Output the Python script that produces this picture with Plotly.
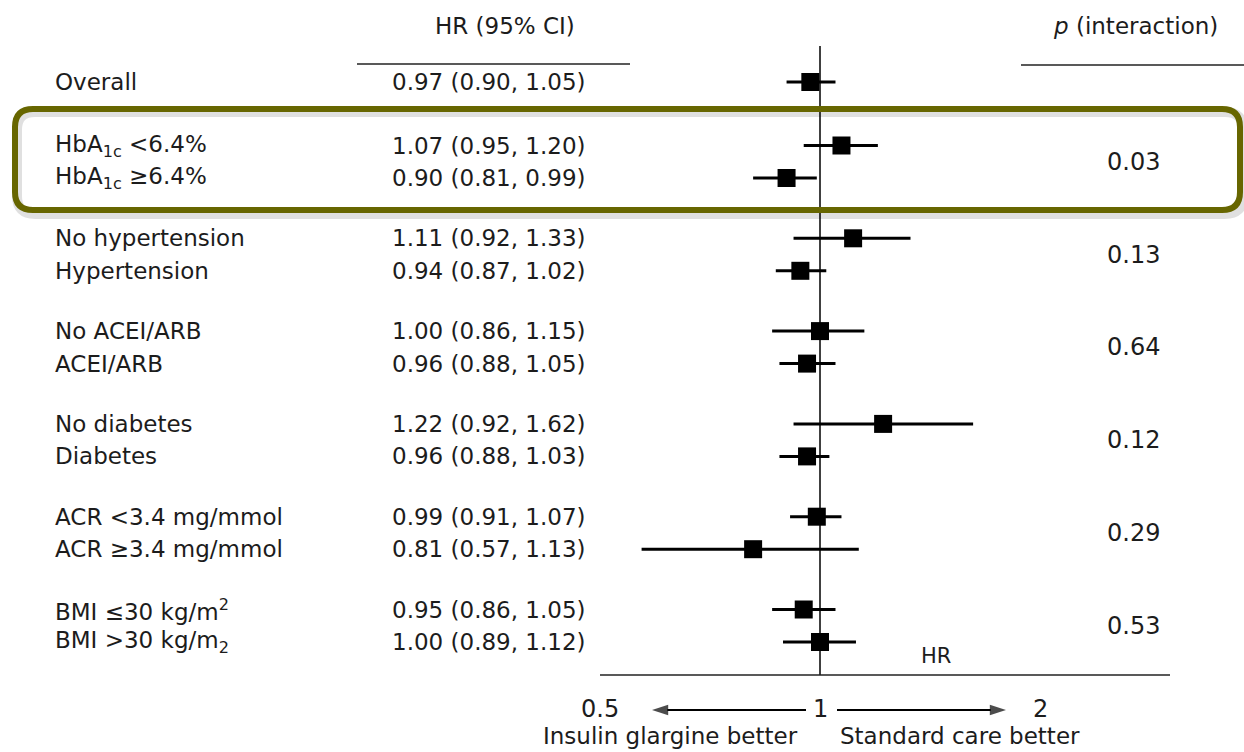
import numpy as np
import plotly.graph_objects as go

# ---------------- data ----------------
labels = [
    "Overall",
    "HbA<sub>1c</sub> &lt;6.4%",
    "HbA<sub>1c</sub> ≥6.4%",
    "No hypertension",
    "Hypertension",
    "No ACEI/ARB",
    "ACEI/ARB",
    "No diabetes",
    "Diabetes",
    "ACR &lt;3.4 mg/mmol",
    "ACR ≥3.4 mg/mmol",
    "BMI ≤30 kg/m<sup>2</sup>",
    "BMI &gt;30 kg/m<sub>2</sub>",
]
hr = [0.97, 1.07, 0.90, 1.11, 0.94, 1.00, 0.96, 1.22, 0.96, 0.99, 0.81, 0.95, 1.00]
ci_low = [0.90, 0.95, 0.81, 0.92, 0.87, 0.86, 0.88, 0.92, 0.88, 0.91, 0.57, 0.86, 0.89]
ci_high = [1.05, 1.20, 0.99, 1.33, 1.02, 1.15, 1.05, 1.62, 1.03, 1.07, 1.13, 1.05, 1.12]
p_interaction = ["0.03", "0.13", "0.64", "0.12", "0.29", "0.53"]
tick_vals = [0.5, 1, 2]
tick_text = ["0.5", "1", "2"]

# ---------------- layout helpers ----------------
W, H = 1244, 752
FONT = "DejaVu Sans"
FS = 23
TXT = "#1c1c1c"

# log x-axis: 0.5 -> 600px, 2 -> 1040px
PX_LO, PX_HI = 600, 1040
per_px = (np.log10(2) - np.log10(0.5)) / (PX_HI - PX_LO)
r0 = np.log10(0.5) - PX_LO * per_px
r1 = r0 + W * per_px


def px_to_val(p):
    return 10 ** (r0 + p * per_px)


def px(x):
    return x / W


# row positions (y in pixels, axis reversed)
OVERALL_Y = 82
GROUP_START = 145.5
GROUP_STEP = 92.8
ROW_PITCH = 32.5
row_y = [OVERALL_Y]
for g in range(6):
    s = GROUP_START + GROUP_STEP * g
    row_y += [s, s + ROW_PITCH]
p_y = [(row_y[1 + 2 * g] + row_y[2 + 2 * g]) / 2 for g in range(6)]

fig = go.Figure()

# CI lines
xs, ys = [], []
for l, h, y in zip(ci_low, ci_high, row_y):
    xs += [l, h, None]
    ys += [y, y, None]
fig.add_trace(go.Scatter(x=xs, y=ys, mode="lines",
                         line=dict(color="black", width=3), hoverinfo="skip"))

# reference line at HR = 1
fig.add_trace(go.Scatter(x=[1, 1], y=[46, 675], mode="lines",
                         line=dict(color="black", width=1.5), hoverinfo="skip"))

# point estimates
fig.add_trace(go.Scatter(x=hr, y=row_y, mode="markers",
                         marker=dict(symbol="square", size=18, color="black",
                                     line=dict(width=0))))

# direction arrows below the axis
for tail, head in [(806, 652), (837, 1006)]:
    fig.add_trace(go.Scatter(
        x=[px_to_val(tail), px_to_val(head)], y=[710, 710], mode="lines+markers",
        line=dict(color="black", width=2.2),
        marker=dict(symbol="arrow", size=[0, 17], angleref="previous",
                    color="black", line=dict(width=0)),
        hoverinfo="skip"))

annotations = []
for lab, h, l, u, y in zip(labels, hr, ci_low, ci_high, row_y):
    annotations.append(dict(x=px(53), xref="paper", y=y, yref="y", text=lab,
                            xanchor="left", yanchor="middle", showarrow=False,
                            font=dict(family=FONT, size=FS, color=TXT)))
    annotations.append(dict(x=px(390), xref="paper", y=y, yref="y",
                            text=f"{h:.2f} ({l:.2f}, {u:.2f})",
                            xanchor="left", yanchor="middle", showarrow=False,
                            font=dict(family=FONT, size=FS, color=TXT)))
for pv, y in zip(p_interaction, p_y):
    annotations.append(dict(x=px(1133), xref="paper", y=y, yref="y", text=pv,
                            xanchor="center", yanchor="middle", showarrow=False,
                            font=dict(family=FONT, size=FS + 1, color=TXT)))

# headers
annotations.append(dict(x=px(505), xref="paper", y=26, yref="y", text="HR (95% CI)",
                        xanchor="center", yanchor="middle", showarrow=False,
                        font=dict(family=FONT, size=FS, color=TXT)))
annotations.append(dict(x=px(1135), xref="paper", y=26, yref="y",
                        text="<i>p</i> (interaction)",
                        xanchor="center", yanchor="middle", showarrow=False,
                        font=dict(family=FONT, size=FS, color=TXT)))
annotations.append(dict(x=px(936), xref="paper", y=656, yref="y", text="HR",
                        xanchor="center", yanchor="middle", showarrow=False,
                        font=dict(family=FONT, size=FS - 2, color=TXT)))

# tick labels
for v, t in zip(tick_vals, tick_text):
    annotations.append(dict(x=np.log10(v), xref="x", y=709, yref="y", text=t,
                            xanchor="center", yanchor="middle", showarrow=False,
                            font=dict(family=FONT, size=FS + 1, color=TXT)))

annotations.append(dict(x=px(800), xref="paper", y=736, yref="y",
                        text="Insulin glargine better",
                        xanchor="right", yanchor="middle", showarrow=False,
                        font=dict(family=FONT, size=FS, color=TXT)))
annotations.append(dict(x=px(838), xref="paper", y=736, yref="y",
                        text="Standard care better",
                        xanchor="left", yanchor="middle", showarrow=False,
                        font=dict(family=FONT, size=FS, color=TXT)))


def rounded_path(x0, y0, x1, y1, r):
    rx = r / W
    X0, X1 = px(x0), px(x1)
    return (f"M {X0 + rx},{y0} L {X1 - rx},{y0} Q {X1},{y0} {X1},{y0 + r} "
            f"L {X1},{y1 - r} Q {X1},{y1} {X1 - rx},{y1} "
            f"L {X0 + rx},{y1} Q {X0},{y1} {X0},{y1 - r} "
            f"L {X0},{y0 + r} Q {X0},{y0} {X0 + rx},{y0} Z")


shapes = [
    # header underlines
    dict(type="line", xref="paper", yref="y", x0=px(357), x1=px(630), y0=64, y1=64,
         line=dict(color="#222", width=1.5)),
    dict(type="line", xref="paper", yref="y", x0=px(1021), x1=px(1244), y0=65, y1=65,
         line=dict(color="#222", width=1.5)),
    # axis line
    dict(type="line", xref="paper", yref="y", x0=px(600), x1=px(1170), y0=675, y1=675,
         line=dict(color="#222", width=1.5)),
    # highlight box shadow + box
    dict(type="path", xref="paper", yref="y", path=rounded_path(17, 112, 1243, 214, 18),
         line=dict(color="rgba(0,0,0,0.12)", width=10), layer="below"),
    dict(type="path", xref="paper", yref="y", path=rounded_path(15, 109, 1240, 210, 18),
         line=dict(color="#676600", width=6)),
]

fig.update_layout(
    width=W, height=H,
    margin=dict(l=0, r=0, t=0, b=0),
    paper_bgcolor="white", plot_bgcolor="white",
    showlegend=False,
    xaxis=dict(type="log", range=[r0, r1], visible=False, fixedrange=True),
    yaxis=dict(range=[H, 0], visible=False, fixedrange=True),
    annotations=annotations,
    shapes=shapes,
)

fig.write_html("out.html")
